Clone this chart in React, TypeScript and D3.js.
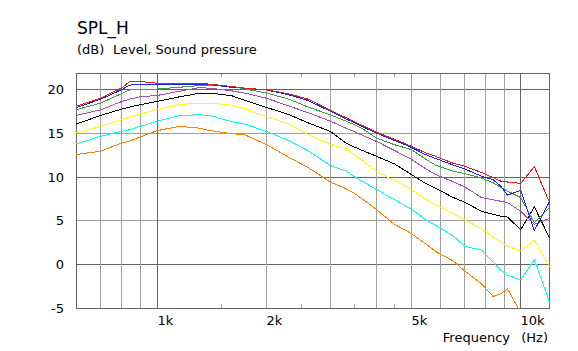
import React from 'react';
import * as d3 from 'd3';

// frequency points (Hz) shared by every curve
const freqs = [
  600, 700, 800, 840, 900, 1000, 1150, 1300, 1400, 1600, 1750, 2000, 2300, 2600, 3000, 3300,
  3500, 3750, 4000, 4500, 5000, 5450, 5850, 6500, 7000, 7800, 8400, 8800, 9200, 10000, 10900, 12000,
];

// SPL curves (dB), one per colour
const red = [
  18.1, 19.0, 20.2, 20.9, 20.9, 20.72, 20.72, 20.72, 20.6, 20.35, 20.15, 19.97, 19.5, 18.9, 17.6, 16.8,
  16.3, 15.7, 15.15, 14.3, 13.53, 12.8, 12.35, 11.6, 11.25, 10.53, 9.93, 9.55, 9.44, 9.28, 11.2, 7.1,
];
const blue = [
  17.95, 18.9, 20.0, 20.5, 20.6, 20.6, 20.6, 20.6, 20.55, 20.25, 20.15, 19.95, 19.4, 18.75, 17.5, 16.67,
  16.18, 15.58, 15.04, 14.18, 13.4, 12.6, 12.1, 11.4, 10.95, 10.1, 9.7, 8.98, 7.95, 8.5, 3.9, 7.2,
];
const green = [
  17.7, 18.45, 19.55, 19.95, 20.0, 20.05, 20.25, 20.45, 20.45, 20.35, 20.05, 19.6, 18.9, 18.0, 17.1, 16.4,
  15.95, 15.3, 14.47, 13.69, 13.15, 12.1, 11.33, 10.7, 10.4, 9.9, 9.35, 8.85, 8.4, 7.66, 4.8, 6.5,
];
const purple = [
  17.05, 17.69, 18.64, 18.9, 19.17, 19.32, 19.8, 20.2, 20.15, 19.85, 19.58, 19.0, 18.12, 17.36, 16.37, 15.6,
  15.15, 14.6, 14.1, 13.03, 12.05, 11.0, 10.27, 9.5, 8.9, 7.66, 7.4, 7.25, 7.1, 6.1, 4.6, 5.3,
];
const black = [
  16.07, 17.05, 17.77, 18.0, 18.26, 18.64, 19.16, 19.55, 19.6, 19.3, 18.75, 17.95, 17.15, 16.2, 15.2, 13.9,
  13.4, 12.88, 12.4, 11.5, 10.3, 9.33, 8.7, 7.7, 7.15, 6.1, 5.75, 5.55, 5.43, 4.0, 6.6, 3.07,
];
const yellow = [
  15.04, 15.8, 16.56, 16.85, 17.2, 17.69, 18.3, 18.45, 18.45, 18.2, 17.75, 16.9, 16.06, 14.85, 13.72, 13.27,
  12.5, 11.56, 10.7, 9.58, 8.6, 7.5, 6.8, 5.85, 5.13, 4.1, 3.11, 2.6, 2.1, 1.59, 2.8, -0.23,
];
const cyan = [
  13.8, 14.67, 15.23, 15.4, 15.8, 16.37, 17.0, 17.12, 17.0, 16.33, 16.03, 15.2, 14.17, 13.0, 11.3, 10.7,
  10.0, 9.27, 8.6, 7.4, 6.33, 5.19, 4.44, 3.31, 2.1, 1.67, 0.27, -0.6, -1.2, -1.74, 0.57, -4.27,
];
const orange = [
  12.58, 12.96, 13.9, 14.1, 14.6, 15.3, 15.8, 15.6, 15.3, 14.97, 14.8, 13.7, 12.27, 11.1, 9.4, 8.7,
  8.1, 7.2, 6.33, 4.6, 3.56, 2.43, 1.48, 0.46, -0.68, -2.19, -3.63, -3.33, -2.76, -5.5, null, null,
];

const curves: [string, (number | null)[]][] = [
  ['#ff8000', orange],
  ['#00ffff', cyan],
  ['#ffff00', yellow],
  ['#000000', black],
  ['#a050b0', purple],
  ['#40a040', green],
  ['#2020e0', blue],
  ['#e02020', red],
];

const yTicks = [-5, 0, 5, 10, 15, 20];
const yMajor = [0, 10, 20];
const xGrid = [700, 800, 900, 1000, 2000, 3000, 4000, 5000, 6000, 7000, 8000, 9000, 10000];
const xMajor = [1000, 10000];
const xLabelFreqs = [1000, 2000, 5000, 10000];
const xLabelTexts = ['1k', '2k', '5k', '10k'];
const xMinorTicks = [1500, 2500, 3500, 4500];

const W = 578;
const H = 351;
const left = 76, right = 549, top = 73, bottom = 308;
const font = '"DejaVu Sans", Verdana, sans-serif';

export default function App() {
  const x = d3.scaleLog().domain([600, 12000]).range([left + 0.5, right + 0.5]);
  const y = d3.scaleLinear().domain([-5, 20]).range([bottom + 0.5, 89.5]);
  const px = (f: number) => Math.round(x(f) - 0.5) + 0.5;
  const py = (v: number) => Math.round(y(v) - 0.5) + 0.5;

  const line = d3
    .line<number | null>()
    .defined(d => d !== null)
    .x((_, i) => x(freqs[i]))
    .y(d => y(d as number));

  return (
    <svg width={W} height={H} style={{ position: 'absolute', left: 0, top: 0, background: '#fff' }}>
      <defs>
        <clipPath id="plot">
          <rect x={left} y={top} width={right - left + 1} height={bottom - top + 1} />
        </clipPath>
      </defs>

      <text x={77} y={34} fontFamily={font} fontSize={17}>SPL_H</text>
      <text x={77} y={54} fontFamily={font} fontSize={13}>(dB)</text>
      <text x={113} y={54} fontFamily={font} fontSize={13}>Level, Sound pressure</text>

      {/* grid */}
      <g shapeRendering="crispEdges">
        {yTicks.slice(1).map(v => (
          <line key={'h' + v} x1={left} x2={right} y1={py(v)} y2={py(v)}
            stroke={yMajor.includes(v) ? '#646464' : '#a0a0a0'} />
        ))}
        {xGrid.map(f => (
          <line key={'v' + f} x1={px(f)} x2={px(f)} y1={top} y2={bottom}
            stroke={xMajor.includes(f) ? '#646464' : '#a0a0a0'} />
        ))}
        {xMinorTicks.map(f => (
          <g key={'t' + f}>
            <line x1={px(f)} x2={px(f)} y1={top} y2={top + 4} stroke="#a0a0a0" />
            <line x1={px(f)} x2={px(f)} y1={bottom - 4} y2={bottom} stroke="#a0a0a0" />
          </g>
        ))}
        <rect x={left + 0.5} y={top + 0.5} width={right - left} height={bottom - top}
          fill="none" stroke="#646464" />
      </g>

      {/* curves */}
      <g clipPath="url(#plot)">
        {curves.map(([color, values]) => (
          <path key={color} d={line(values) || ''} fill="none" stroke={color}
            strokeWidth={1} shapeRendering="crispEdges" />
        ))}
      </g>

      {/* y labels */}
      {yTicks.map(v => (
        <text key={'yl' + v} x={64} y={py(v) + 4.5} textAnchor="end" fontFamily={font} fontSize={13}>
          {v}
        </text>
      ))}

      {/* x labels */}
      {xLabelFreqs.map((f, i) => (
        <text key={'xl' + f} x={px(f)} y={325} fontFamily={font} fontSize={13}>
          {xLabelTexts[i]}
        </text>
      ))}
      <text x={510} y={342} textAnchor="end" fontFamily={font} fontSize={13}>Frequency</text>
      <text x={548} y={342} textAnchor="end" fontFamily={font} fontSize={13}>(Hz)</text>
    </svg>
  );
}
